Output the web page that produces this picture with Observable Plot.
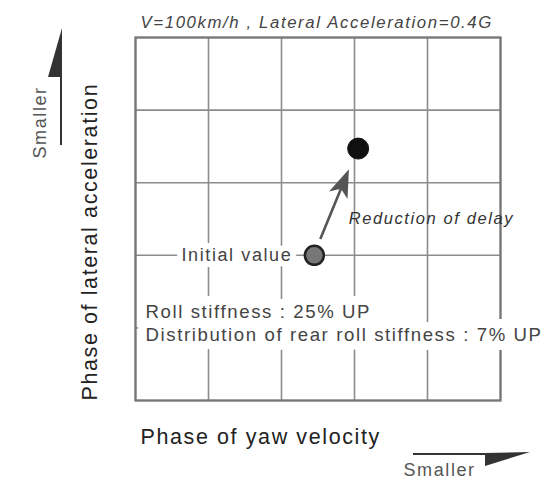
<!DOCTYPE html>
<html>
<head>
<meta charset="utf-8">
<script src="https://cdn.jsdelivr.net/npm/d3@7"></script>
<script src="https://cdn.jsdelivr.net/npm/@observablehq/plot@0.6"></script>
<style>
  html, body { margin: 0; padding: 0; background: #fff; }
  #chart svg { display: block; }
</style>
</head>
<body>
<div id="chart"></div>
<script>
// ---- data ----
const gridTicks = [0, 1, 2, 3, 4, 5];
const pointNames = ["Initial value", "Modified"];
const phaseYaw = [2.45, 3.05];      // x: phase of yaw velocity (grid units)
const phaseLat = [2.0, 3.47];       // y: phase of lateral acceleration (grid units)
const titleText = "V=100km/h , Lateral Acceleration=0.4G";
const xLabel = "Phase of yaw velocity";
const yLabel = "Phase of lateral acceleration";
const arrowLabel = "Reduction of delay";
const arrowLabelX = [2.92];
const arrowLabelY = [2.5];
const noteLines = ["Roll stiffness : 25% UP", "Distribution of rear roll stiffness : 7% UP"];
const smallerText = "Smaller";

const FONT = "'Liberation Sans', Arial, sans-serif";

// filled arrow between the two points, drawn through the scales
function changeArrow(index, scales, values, dims) {
  const x1 = scales.x(phaseYaw[0]), y1 = scales.y(phaseLat[0]);
  const x2 = scales.x(phaseYaw[1]), y2 = scales.y(phaseLat[1]);
  const dx = x2 - x1, dy = y2 - y1, L = Math.hypot(dx, dy);
  const ux = dx / L, uy = dy / L, px = -uy, py = ux;
  const sx = x1 + ux * 17, sy = y1 + uy * 17;
  const ex = x2 - ux * 23, ey = y2 - uy * 23;
  const headLen = 28, headW = 10, notch = 7;
  const bx = ex - ux * headLen, by = ey - uy * headLen;
  const g = d3.create("svg:g");
  g.append("line")
    .attr("x1", sx).attr("y1", sy)
    .attr("x2", bx + ux * notch).attr("y2", by + uy * notch)
    .attr("stroke", "#555").attr("stroke-width", 2.6);
  g.append("path")
    .attr("d", `M${ex},${ey}L${bx + px * headW},${by + py * headW}L${bx + ux * notch},${by + uy * notch}L${bx - px * headW},${by - py * headW}Z`)
    .attr("fill", "#555");
  return g.node();
}

// "Smaller" direction arrows outside the frame
function directionArrows(index, scales, values, dims) {
  const ml = dims.marginLeft, mt = dims.marginTop;
  const fb = dims.height - dims.marginBottom;
  const g = d3.create("svg:g").attr("fill", "#333").attr("stroke", "#333");
  // vertical (left)
  g.append("line").attr("x1", ml - 74).attr("x2", ml - 74)
    .attr("y1", mt + 108).attr("y2", mt + 38).attr("stroke-width", 2);
  g.append("path").attr("stroke", "none")
    .attr("d", `M${ml - 73},${mt - 9}L${ml - 73},${mt + 40}L${ml - 87},${mt + 40}Z`);
  // horizontal (bottom)
  g.append("line").attr("y1", fb + 54).attr("y2", fb + 54)
    .attr("x1", ml + 278).attr("x2", ml + 355).attr("stroke-width", 2);
  g.append("path").attr("stroke", "none")
    .attr("d", `M${ml + 395},${fb + 52}L${ml + 350},${fb + 53}L${ml + 350},${fb + 66}Z`);
  return g.node();
}

const plot = Plot.plot({
  width: 546,
  height: 482,
  marginLeft: 135,
  marginRight: 46,
  marginTop: 37,
  marginBottom: 82,
  x: { domain: [0, 5], axis: null },
  y: { domain: [0, 5], axis: null },
  style: { fontFamily: FONT, background: "#fff", letterSpacing: "1.6px", overflow: "visible" },
  marks: [
    Plot.ruleX(gridTicks, { stroke: "#8c8c8c", strokeWidth: 1.6 }),
    Plot.ruleY(gridTicks, { stroke: "#8c8c8c", strokeWidth: 1.6 }),
    Plot.frame({ stroke: "#777", strokeWidth: 2.2 }),
    Plot.text(noteLines.slice(0, 1), {
      text: () => noteLines.join("\n"),
      frameAnchor: "bottom-left", dx: 10, dy: -78, textAnchor: "start", lineAnchor: "middle",
      lineHeight: 1.2, fontSize: 18.6, fill: "#444", stroke: "#fff", strokeWidth: 18
    }),
    Plot.text([0], {
      x: i => phaseYaw[i], y: i => phaseLat[i], text: i => pointNames[i],
      dx: -22, textAnchor: "end", fontSize: 18, fill: "#444", stroke: "#fff", strokeWidth: 12
    }),
    changeArrow,
    Plot.text(arrowLabel ? [0] : [], {
      x: i => arrowLabelX[i], y: i => arrowLabelY[i], text: () => arrowLabel,
      textAnchor: "start", fontSize: 16.5, fontStyle: "italic", fill: "#333"
    }),
    Plot.dot([0], { x: i => phaseYaw[i], y: i => phaseLat[i], r: 9.5, fill: "#777", stroke: "#222", strokeWidth: 2.5 }),
    Plot.dot([1], { x: i => phaseYaw[i], y: i => phaseLat[i], r: 10.5, fill: "#111", stroke: "#111", strokeWidth: 1 }),
    Plot.text([titleText], {
      frameAnchor: "top-left", dx: 5, dy: -15, textAnchor: "start", lineAnchor: "middle",
      fontSize: 16.8, fontStyle: "italic", fill: "#444"
    }),
    Plot.text([xLabel], {
      frameAnchor: "bottom-left", dx: 5, dy: 37, textAnchor: "start", lineAnchor: "middle",
      fontSize: 21.5, fill: "#222"
    }),
    Plot.text([yLabel], {
      frameAnchor: "bottom-left", dx: -45, dy: 0, rotate: -90, textAnchor: "start", lineAnchor: "middle",
      fontSize: 21.5, fill: "#222"
    }),
    Plot.text([smallerText], {
      frameAnchor: "bottom-left", dx: 268, dy: 70, textAnchor: "start", lineAnchor: "middle",
      fontSize: 18, fill: "#555"
    }),
    Plot.text([smallerText], {
      frameAnchor: "top-left", dx: -95, dy: 121, rotate: -90, textAnchor: "start", lineAnchor: "middle",
      fontSize: 18, fill: "#555"
    }),
    directionArrows
  ]
});

document.getElementById("chart").appendChild(plot);
</script>
</body>
</html>
